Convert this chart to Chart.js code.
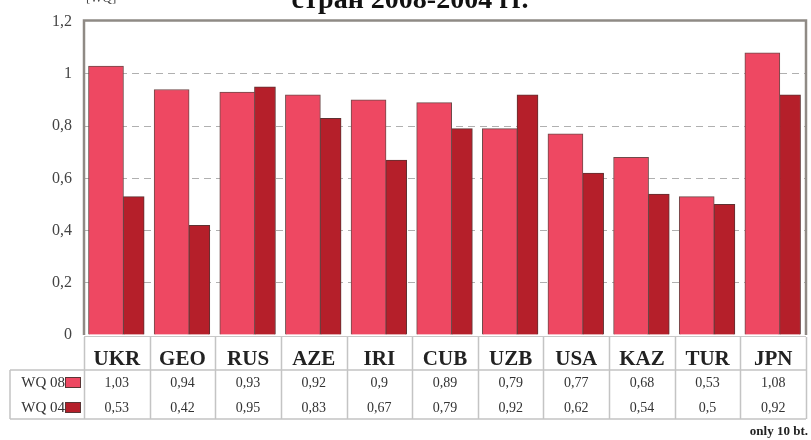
<!DOCTYPE html>
<html>
<head>
<meta charset="utf-8">
<script src="https://cdn.jsdelivr.net/npm/chart.js@4"></script>
<style>
  html, body { margin: 0; padding: 0; background: #fff; }
  #wrap { width: 811px; height: 440px; }
</style>
</head>
<body>
<div id="wrap"><canvas id="wq-chart" width="811" height="440"></canvas></div>
<script>
const countries = ["UKR", "GEO", "RUS", "AZE", "IRI", "CUB", "UZB", "USA", "KAZ", "TUR", "JPN"];
const wq08 = [1.03, 0.94, 0.93, 0.92, 0.9, 0.89, 0.79, 0.77, 0.68, 0.53, 1.08];
const wq04 = [0.53, 0.42, 0.95, 0.83, 0.67, 0.79, 0.92, 0.62, 0.54, 0.5, 0.92];
const seriesNames = ["WQ 08", "WQ 04"];

const SERIF = "'Liberation Serif', 'DejaVu Serif', serif";
const PINK = "#ee4862";
const DARK = "#b51f2a";

const fmt = (v) => String(Math.round(v * 100) / 100).replace(".", ",");

// bars sit side by side inside each category, the first one wider
const barLayout = {
  id: "barLayout",
  afterDatasetsUpdate(chart) {
    const xs = chart.scales.x;
    const w = xs.width / countries.length;
    const fracs = [0.335, 0.757];
    chart.data.datasets.forEach((ds, d) => {
      chart.getDatasetMeta(d).data.forEach((bar, i) => {
        bar.x = xs.left + i * w + fracs[d] * w;
      });
    });
  },
};

const frameAndTable = {
  id: "frameAndTable",
  afterDraw(chart) {
    const ctx = chart.ctx;
    const area = chart.chartArea;
    const xs = chart.scales.x;
    const w = xs.width / countries.length;
    ctx.save();

    // title line (only its lower part fits on the canvas)
    ctx.fillStyle = "#111";
    ctx.font = "bold 28px " + SERIF;
    ctx.textAlign = "center";
    ctx.textBaseline = "alphabetic";
    ctx.fillText("стран 2008-2004 гг.", 410, 8);
    ctx.font = "13px " + SERIF;
    ctx.textAlign = "left";
    ctx.fillStyle = "#444";
    ctx.fillText("[WQ]", 86, 2);

    // plot frame
    ctx.strokeStyle = "#8f8a85";
    ctx.lineWidth = 2.5;
    ctx.beginPath();
    ctx.moveTo(area.left, area.bottom);
    ctx.lineTo(area.left, area.top - 1);
    ctx.lineTo(area.right, area.top - 1);
    ctx.lineTo(area.right, area.bottom);
    ctx.stroke();

    ctx.strokeStyle = "#c8c8c8";
    ctx.lineWidth = 1;
    ctx.beginPath();
    ctx.moveTo(area.left, area.bottom + 1.5);
    ctx.lineTo(area.right, area.bottom + 1.5);
    ctx.stroke();

    // table grid
    const rowTop = 370;
    const rowBottom = 419;
    const tableLeft = 10;
    ctx.strokeStyle = "#c4c4c4";
    ctx.lineWidth = 1.5;
    ctx.beginPath();
    for (let i = 0; i <= countries.length; i++) {
      const x = Math.round(xs.left + i * w) + 0.5;
      ctx.moveTo(x, area.bottom + 2);
      ctx.lineTo(x, rowBottom);
    }
    ctx.moveTo(tableLeft, rowTop);
    ctx.lineTo(area.right, rowTop);
    ctx.moveTo(tableLeft, rowBottom);
    ctx.lineTo(area.right, rowBottom);
    ctx.moveTo(tableLeft, rowTop);
    ctx.lineTo(tableLeft, rowBottom);
    ctx.stroke();

    // table rows
    const rows = [wq08, wq04];
    const rowY = [383, 408];
    const colors = [PINK, DARK];
    rows.forEach((vals, r) => {
      ctx.fillStyle = "#333";
      ctx.font = "14px " + SERIF;
      ctx.textAlign = "center";
      ctx.textBaseline = "middle";
      vals.forEach((v, i) => {
        ctx.fillText(fmt(v), xs.left + (i + 0.5) * w, rowY[r]);
      });
      ctx.font = "15px " + SERIF;
      ctx.textAlign = "right";
      ctx.fillText(seriesNames[r], 65, rowY[r]);
      ctx.fillStyle = colors[r];
      ctx.fillRect(65, rowY[r] - 6, 16, 11);
      ctx.strokeStyle = "#5a3535";
      ctx.lineWidth = 1;
      ctx.strokeRect(65.5, rowY[r] - 5.5, 15, 10);
    });

    ctx.fillStyle = "#222";
    ctx.font = "bold 13px " + SERIF;
    ctx.textAlign = "right";
    ctx.textBaseline = "alphabetic";
    ctx.fillText("only 10 bt.", 808, 435);
    ctx.restore();
  },
};

const ctx = document.getElementById("wq-chart").getContext("2d");
const wqChart = new Chart(ctx, {
  type: "bar",
  data: {
    labels: countries,
    datasets: [
      {
        label: seriesNames[0],
        data: wq08,
        backgroundColor: PINK,
        borderColor: "#6e4a4a",
        borderWidth: 1,
        barThickness: 35,
        grouped: false,
      },
      {
        label: seriesNames[1],
        data: wq04,
        backgroundColor: DARK,
        borderColor: "#5e3232",
        borderWidth: 1,
        barThickness: 21,
        grouped: false,
      },
    ],
  },
  options: {
    responsive: false,
    animation: false,
    layout: {
      padding: { top: 21, right: 5, bottom: 60, left: 0 },
    },
    scales: {
      y: {
        min: 0,
        max: 1.2,
        ticks: {
          stepSize: 0.2,
          padding: 12,
          color: "#444",
          font: { family: SERIF, size: 16 },
          callback: (v) => fmt(v),
        },
        grid: {
          drawTicks: false,
          color: (c) =>
            c.tick && (c.tick.value === 0 || Math.abs(c.tick.value - 1.2) < 1e-6)
              ? "rgba(0,0,0,0)"
              : "#b0b0b0",
        },
        border: { display: false, dash: [7, 5] },
        afterFit: (scale) => {
          scale.width = 84;
        },
      },
      x: {
        grid: { display: false, drawTicks: false },
        border: { display: false },
        ticks: {
          padding: 12,
          color: "#222",
          font: { family: SERIF, size: 21, weight: "bold" },
        },
        afterFit: (scale) => {
          scale.height = 45;
        },
      },
    },
    plugins: {
      legend: { display: false },
      tooltip: { enabled: false },
    },
  },
  plugins: [barLayout, frameAndTable],
});
</script>
</body>
</html>
